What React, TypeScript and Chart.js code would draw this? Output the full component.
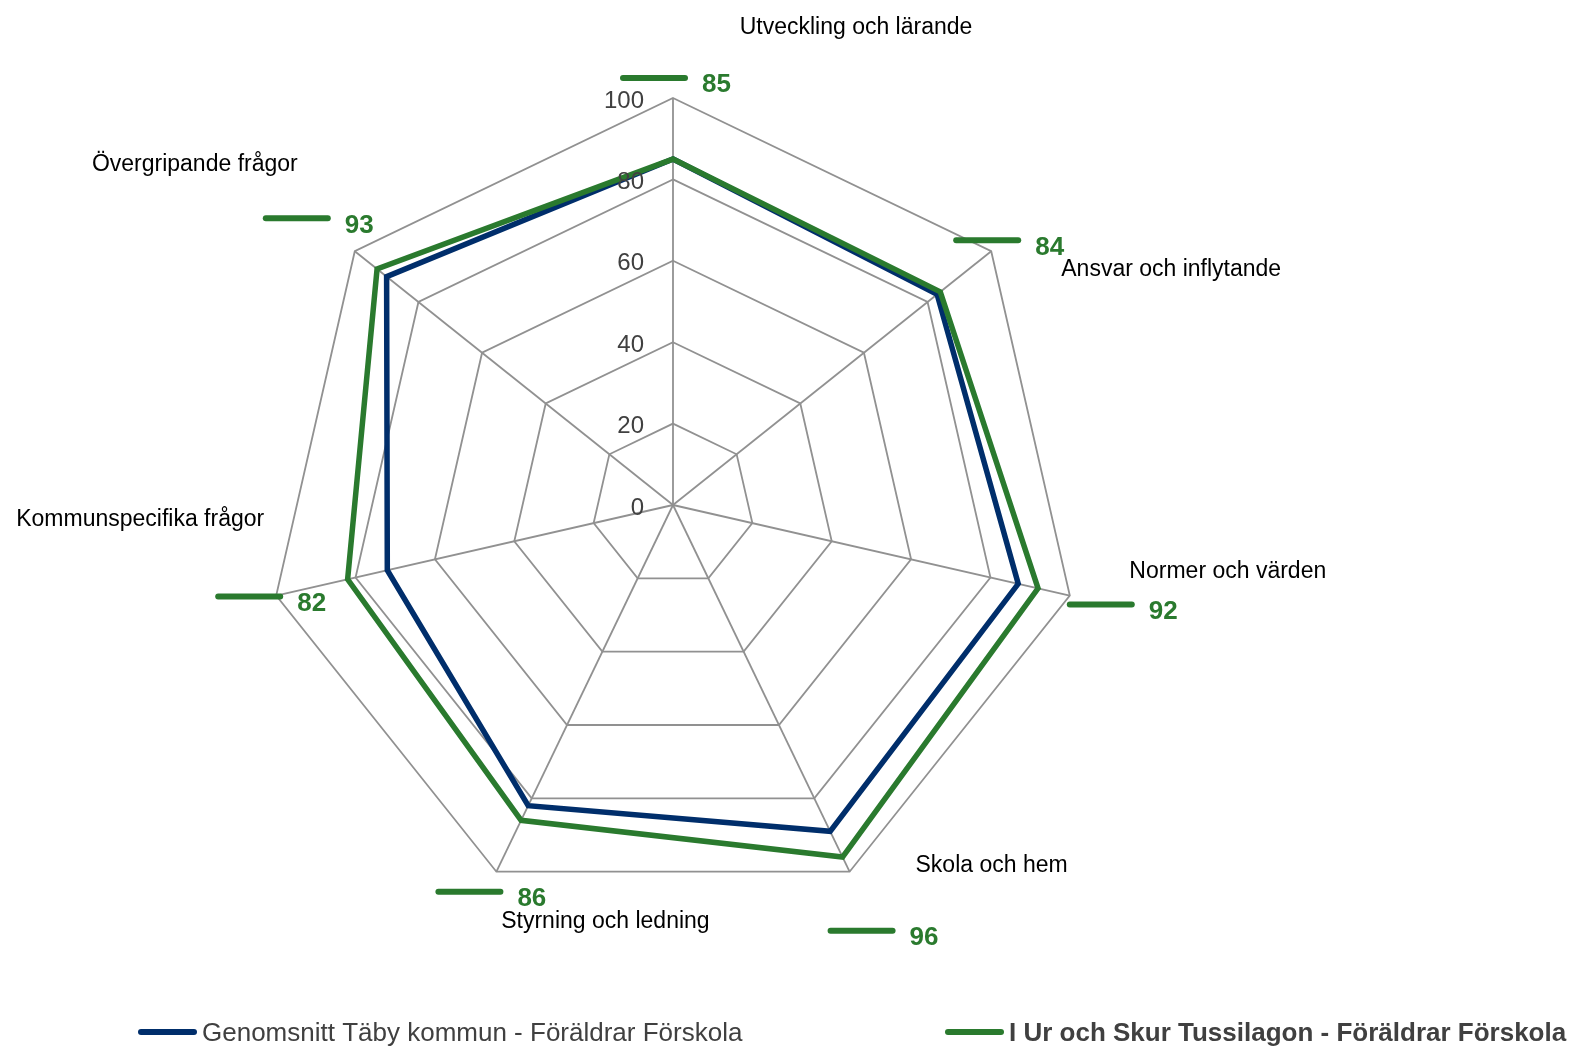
import React, { useEffect, useRef } from 'react';
import { Chart, registerables } from 'chart.js';

Chart.register(...registerables);

// ---- data ----
const categories = [
  'Utveckling och lärande',
  'Ansvar och inflytande',
  'Normer och värden',
  'Skola och hem',
  'Styrning och ledning',
  'Kommunspecifika frågor',
  'Övergripande frågor',
];
const seriesNames = [
  'Genomsnitt Täby kommun - Föräldrar Förskola',
  'I Ur och Skur Tussilagon - Föräldrar Förskola',
];
const tabyValues = [85, 83, 87, 89, 82, 72, 90];
const tussilagonValues = [85, 84, 92, 96, 86, 82, 93];
const axisMin = 0;
const axisMax = 100;
const axisStep = 20;

// ---- style ----
const NAVY = '#002E6B';
const GREEN = '#2A7A2E';
const GRID = '#919191';
const TEXT = '#404040';
const FONT = '"Liberation Sans", Arial, Helvetica, sans-serif';

// label placement relative to each axis end (value = axisMax)
const categoryLabelOffsets = [
  [183, -72],
  [180, 17],
  [158, -26],
  [142, -8],
  [109, 48],
  [-136, -78],
  [-160, -88],
];
const valueLabelOffsets = [
  [-53, -20],
  [-38, -11],
  [-3, 9],
  [-22, 59],
  [-61, 20],
  [-61, 1],
  [-92, -33],
];

const overlayPlugin = {
  id: 'overlay',
  afterDraw(chart: any) {
    const ctx = chart.ctx as CanvasRenderingContext2D;
    const scale = chart.scales.r;
    ctx.save();

    // tick labels
    const tickSize = 24;
    ctx.font = `${tickSize}px ${FONT}`;
    ctx.fillStyle = TEXT;
    ctx.textAlign = 'right';
    ctx.textBaseline = 'alphabetic';
    scale.ticks.forEach((t: any) => {
      const d = scale.getDistanceFromCenterForValue(t.value);
      ctx.fillText(String(t.value), scale.xCenter - 29, scale.yCenter - d + tickSize * 0.358 + 1);
    });

    const outer = scale.getDistanceFromCenterForValue(axisMax);

    // category labels
    const catSize = 23;
    ctx.font = `${catSize}px ${FONT}`;
    ctx.fillStyle = '#000000';
    ctx.textAlign = 'center';
    categories.forEach((c, i) => {
      const p = scale.getPointPosition(i, outer);
      const [dx, dy] = categoryLabelOffsets[i];
      ctx.fillText(c, p.x + dx, p.y + dy + catSize * 0.358);
    });

    // value labels (green series) with legend key
    const valSize = 26;
    ctx.font = `bold ${valSize}px ${FONT}`;
    ctx.textAlign = 'left';
    tussilagonValues.forEach((v, i) => {
      const p = scale.getPointPosition(i, outer);
      const [dx, dy] = valueLabelOffsets[i];
      const x0 = p.x + dx;
      const y0 = p.y + dy;
      ctx.strokeStyle = GREEN;
      ctx.lineWidth = 6;
      ctx.lineCap = 'round';
      ctx.beginPath();
      ctx.moveTo(x0 + 3, y0);
      ctx.lineTo(x0 + 65, y0);
      ctx.stroke();
      ctx.fillStyle = GREEN;
      ctx.fillText(String(v), x0 + 82, y0 + 5 + valSize * 0.358);
    });

    // legend
    const legSize = 26;
    const legendItems = [
      { name: seriesNames[0], color: NAVY, x: 138, bold: false },
      { name: seriesNames[1], color: GREEN, x: 945, bold: true },
    ];
    const ly = 1032;
    legendItems.forEach((it) => {
      ctx.strokeStyle = it.color;
      ctx.lineWidth = 6;
      ctx.lineCap = 'round';
      ctx.beginPath();
      ctx.moveTo(it.x + 3, ly);
      ctx.lineTo(it.x + 56, ly);
      ctx.stroke();
      ctx.font = `${it.bold ? 'bold ' : ''}${legSize}px ${FONT}`;
      ctx.fillStyle = TEXT;
      ctx.textAlign = 'left';
      ctx.fillText(it.name, it.x + 64, ly + legSize * 0.358);
    });

    ctx.restore();
  },
};

export default function App() {
  const ref = useRef<HTMLCanvasElement | null>(null);

  useEffect(() => {
    if (!ref.current) return;
    const chart = new Chart(ref.current, {
      type: 'radar',
      data: {
        labels: categories,
        datasets: [
          {
            label: seriesNames[0],
            data: tabyValues,
            borderColor: NAVY,
            backgroundColor: NAVY,
            borderWidth: 5.5,
            pointRadius: 0,
            pointHoverRadius: 0,
            fill: false,
            tension: 0,
            order: 1,
          },
          {
            label: seriesNames[1],
            data: tussilagonValues,
            borderColor: GREEN,
            backgroundColor: GREEN,
            borderWidth: 5.5,
            pointRadius: 0,
            pointHoverRadius: 0,
            fill: false,
            tension: 0,
            order: 0,
          },
        ],
      },
      options: {
        responsive: false,
        animation: false,
        devicePixelRatio: 1,
        layout: { padding: { left: 266, right: 490, top: 98, bottom: 136 } },
        plugins: {
          legend: { display: false },
          tooltip: { enabled: false },
          title: { display: false },
        },
        elements: { line: { borderJoinStyle: 'miter' } },
        scales: {
          r: {
            min: axisMin,
            max: axisMax,
            beginAtZero: true,
            ticks: { display: false, stepSize: axisStep },
            pointLabels: { display: false },
            grid: { color: GRID, lineWidth: 1.8, circular: false },
            angleLines: { color: GRID, lineWidth: 1.8 },
          },
        },
      },
      plugins: [overlayPlugin],
    });
    return () => chart.destroy();
  }, []);

  return (
    <div style={{ position: 'absolute', left: 0, top: 0, width: 1570, height: 1048, background: '#ffffff' }}>
      <canvas ref={ref} width={1570} height={1048} style={{ display: 'block' }} />
    </div>
  );
}
